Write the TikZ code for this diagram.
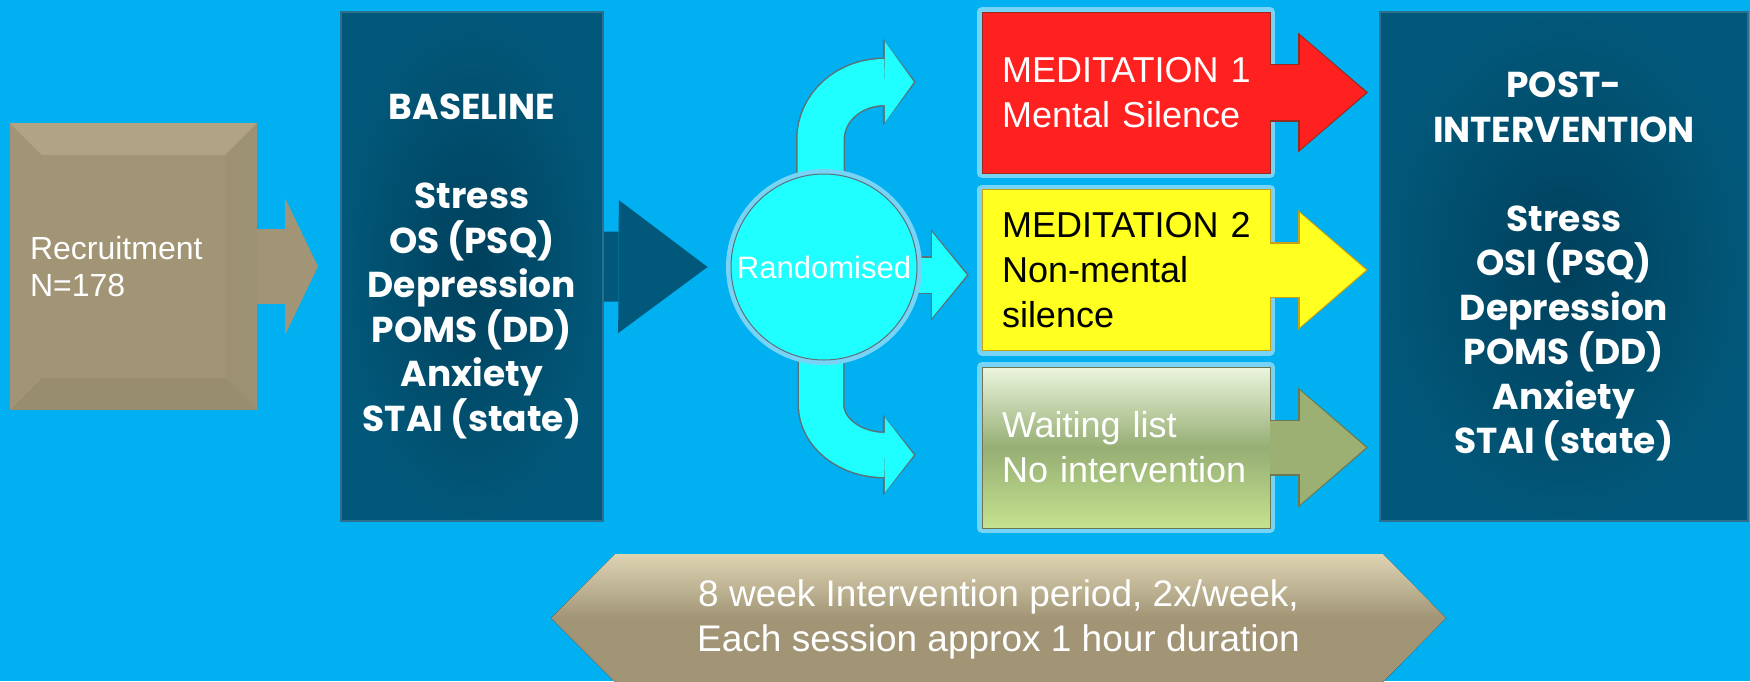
\documentclass[tikz,border=0pt]{standalone}
\usepackage{fontspec}
\setmainfont{Liberation Sans}
\newfontfamily\gothic{Poppins}
\usetikzlibrary{arrows.meta,calc,backgrounds}

\definecolor{skyblue}{RGB}{0,176,240}
\definecolor{tanfill}{RGB}{161,149,118}
\definecolor{tanlight}{RGB}{222,212,178}
\definecolor{tandark}{RGB}{120,110,86}
\definecolor{deepblue}{RGB}{0,64,92}
\definecolor{midblue}{RGB}{2,88,122}
\definecolor{edgeblue}{RGB}{44,112,142}
\definecolor{cyanfill}{RGB}{32,255,255}
\definecolor{cyanedge}{RGB}{92,112,120}
\definecolor{redfill}{RGB}{255,32,32}
\definecolor{rededge}{RGB}{150,44,30}
\definecolor{yellowfill}{RGB}{255,255,32}
\definecolor{yellowedge}{RGB}{200,160,20}
\definecolor{greentop}{RGB}{236,245,222}
\definecolor{greenmid}{RGB}{150,174,116}
\definecolor{greenbot}{RGB}{196,226,142}
\definecolor{olive}{RGB}{156,176,116}
\definecolor{oliveedge}{RGB}{110,120,80}
\definecolor{glow}{RGB}{120,212,246}

\tikzset{
  tanbox/.style={rectangle, fill=tanfill, text=white, align=left, inner xsep=20pt,
    font=\fontsize{32}{37}\selectfont},
  measbox/.style={rectangle, inner color=deepblue, outer color=midblue, draw=edgeblue,
    line width=2pt, text=white, align=center,
    font=\gothic\bfseries\fontsize{36}{44.5}\selectfont},
  groupbox/.style={rectangle, minimum width=288pt, minimum height=161pt,
    text width=248pt, inner xsep=20pt, align=left, font=\fontsize{36}{45}\selectfont,
    preaction={draw=glow, line width=10pt, line join=round}},
  fatarrow/.style n args={4}{draw=#1, line width=#2,
    -{Triangle[width=#3, length=#4, line width=0pt]}},
  rimmed/.style n args={4}{preaction={draw=#1, line width=#2,
    -{Triangle[width=#3, length=#4, line width=0pt]}, shorten >=-2pt}},
}

\begin{document}
\begin{tikzpicture}[x=1pt, y=-1pt]
  \useasboundingbox (0,0) rectangle (1750,681);
  \begin{scope}[on background layer]
    \fill[skyblue] (0,0) rectangle (1750,681);
  \end{scope}

  % recruitment and measures
  \node[tanbox, text width=207pt, minimum height=287pt] (recruit) at (133.5,266.5) {Recruitment\\N=178};
  \fill[tanlight, opacity=0.25] (recruit.north west) -- (recruit.north east) -- ++(-32,32)
    -- ($(recruit.north west)+(32,32)$) -- cycle;
  \fill[tandark, opacity=0.2] (recruit.south west) -- (recruit.south east) -- ++(-32,-32)
    -- ($(recruit.south west)+(32,-32)$) -- cycle;
  \fill[tandark, opacity=0.1] (recruit.north east) -- (recruit.south east) -- ++(-32,-32)
    -- ($(recruit.north east)+(-32,32)$) -- cycle;

  \node[measbox, minimum width=262pt, minimum height=509pt] (baseline) at (472,266.5)
    {BASELINE\\[44.5pt]Stress\\OS (PSQ)\\Depression\\POMS (DD)\\Anxiety\\STAI (state)};

  \node[circle, fill=cyanfill, draw=cyanedge, line width=1pt, minimum size=186pt, inner sep=0pt,
    preaction={draw=glow, line width=10pt}, text=white, font=\fontsize{31}{35}\selectfont]
    (rand) at (824,267) {Randomised};

  % the three groups
  \node[groupbox, fill=redfill, draw=rededge, text=white] (med1) at (1126,92.5)
    {MEDITATION~1\\Mental Silence};
  \node[groupbox, fill=yellowfill, draw=yellowedge, text=black] (med2) at (1126,270)
    {MEDITATION~2\\Non-mental\\silence};
  \node[groupbox, top color=greentop, bottom color=greenbot, middle color=greenmid,
    draw=oliveedge, text=white] (wait) at (1126,447.5)
    {Waiting list\\No intervention};

  \node[measbox, minimum width=368pt, minimum height=509pt] (post) at (1564,266.5)
    {POST-\\INTERVENTION\\[44.5pt]Stress\\OSI (PSQ)\\Depression\\POMS (DD)\\Anxiety\\STAI (state)};

  % block arrows
  \draw[fatarrow={tanfill}{75pt}{137pt}{33pt}] (recruit.east) -- ($(baseline.west)+(-22,0)$);
  \draw[fatarrow={midblue}{70pt}{133pt}{89pt}] (baseline.east) -- ($(rand.west)+(-23,0)$);

  \begin{scope}[on background layer]
    \draw[rimmed={cyanedge}{49pt}{87pt}{33pt}, fatarrow={cyanfill}{46pt}{81pt}{29pt}]
      ($(rand.center)+(-3.5,0)$) -- ($(rand.north)+(-3.5,-34)$)
      .. controls +(0,-32) and +(-36,0) .. ($(med1.west)+(-97,-10.5)$) -- ++(29,0);
    \draw[rimmed={cyanedge}{38pt}{92pt}{38pt}, fatarrow={cyanfill}{35pt}{86pt}{35pt}]
      ($(rand.center)+(0,8)$) -- ($(med2.west)+(-15,5)$);
    \draw[rimmed={cyanedge}{47pt}{81pt}{33pt}, fatarrow={cyanfill}{44pt}{75pt}{29pt}]
      ($(rand.center)+(-3,0)$) -- ($(rand.south)+(-3,44)$)
      .. controls +(0,28) and +(-35,0) .. ($(wait.west)+(-97,7.5)$) -- ++(29,0);
  \end{scope}

  \draw[rimmed={rededge}{58pt}{120pt}{70pt}, fatarrow={redfill}{55pt}{114pt}{66pt}]
    (med1.east) -- ($(post.west |- med1.east)+(-13,0)$);
  \draw[rimmed={yellowedge}{56pt}{120pt}{70pt}, fatarrow={yellowfill}{53pt}{114pt}{66pt}]
    (med2.east) -- ($(post.west |- med2.east)+(-13,0)$);
  \draw[rimmed={oliveedge}{56pt}{120pt}{70pt}, fatarrow={olive}{53pt}{114pt}{66pt}]
    (wait.east) -- ($(post.west |- wait.east)+(-13,0)$);

  % intervention period banner
  \fill[top color=tanlight, bottom color=tanfill, middle color=tanfill]
    (551,618) -- (615,554) -- (1383,554) -- (1446,618) -- (1383,682) -- (615,682) -- cycle;
  \node[text=white, align=center, font=\fontsize{37}{45}\selectfont] (period) at (998.5,619.5)
    {8 week Intervention period, 2x/week,\\Each session approx 1 hour duration};
\end{tikzpicture}
\end{document}
